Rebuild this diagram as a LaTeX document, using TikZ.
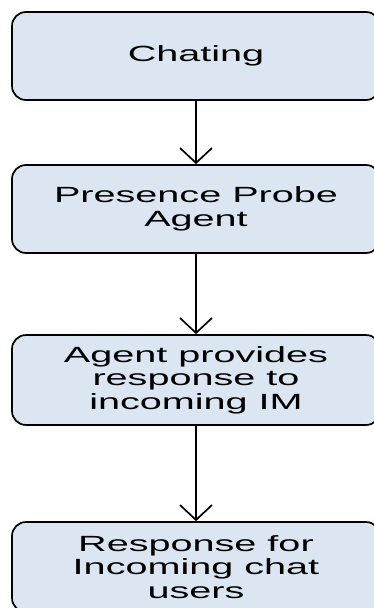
\documentclass[tikz,border=0pt]{standalone}
\usepackage{fontspec}
\usetikzlibrary{arrows.meta,positioning}
\newfontfamily\flowfont[FakeStretch=1.8]{Liberation Sans}
\definecolor{flowFill}{HTML}{DCE6F2}
\tikzset{
    flowBox/.style={
        rectangle,
        draw=black,
        fill=flowFill,
        line width=1.7pt,
        rounded corners=14pt,
        minimum width=368pt,
        minimum height=88pt,
        align=center,
        inner sep=0pt,
        font=\flowfont\fontsize{22}{23.5}\selectfont
    },
    flowArrow/.style={-{Straight Barb[length=15pt, width=32pt]}, line width=1.7pt, draw=black}
}
\begin{document}
\begin{tikzpicture}[x=1pt, y=-1pt]
\useasboundingbox (0,0) rectangle (373,608);

% --- Flow steps ---
\node[flowBox] (chat) at (196, 56) {Chating};
\node[flowBox] (probe) at (196, 209) {Presence Probe\\Agent};
\node[flowBox, minimum height=90pt] (reply) at (196, 380) {Agent provides\\response to\\incoming IM};
\node[flowBox, minimum height=90pt] (users) at (196, 567) {Response for\\Incoming chat\\users};

% --- Connectors ---
\draw[flowArrow] (chat.south) -- (probe.north);
\draw[flowArrow] (probe.south) -- (reply.north);
\draw[flowArrow] (reply.south) -- (users.north);

\end{tikzpicture}
\end{document}
